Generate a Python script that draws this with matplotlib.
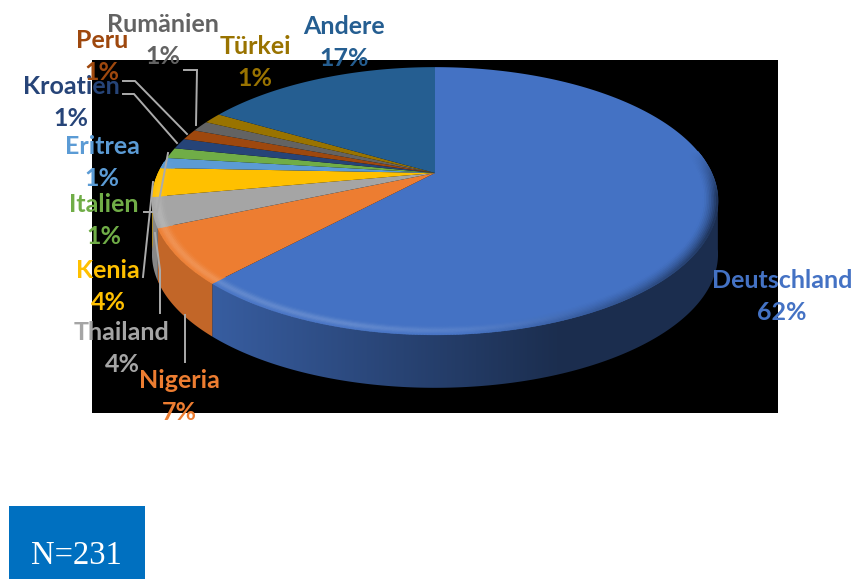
#!/usr/bin/env python3

# Herkunftsländer als 3D-Torte mit Beschriftung und Führungslinien

import matplotlib
matplotlib.use('Agg')
import matplotlib.pyplot as plt
from matplotlib.collections import PolyCollection
from matplotlib.colors import to_rgb
from matplotlib.patches import Polygon, Rectangle
import numpy as np

countries = ['Deutschland', 'Nigeria', 'Thailand', 'Kenia', 'Eritrea', 'Italien',
             'Kroatien', 'Peru', 'Rumänien', 'Türkei', 'Andere']
shares = [62.0, 6.6, 3.6, 3.5, 1.3, 1.3, 1.3, 1.3, 1.3, 1.3, 16.6]
colors = ['#4472C4', '#ED7D31', '#A5A5A5', '#FFC000', '#5B9BD5', '#70AD47',
          '#264478', '#9E480E', '#636363', '#997300', '#255E91']
sample_note = 'N=231'

label_x = [782, 179, 122, 108, 102, 104, 71, 102, 163, 255, 344]
label_y = [281, 381, 332, 271, 147, 205, 87, 41, 24, 46, 27]

# Führungslinien (x-Liste, y-Liste)
leaders = [
    ([196, 197, 184], [125, 70, 70]),
    ([187, 135, 123], [134, 81, 81]),
    ([177, 134, 123], [143, 94, 94]),
    ([168, 157, 144], [153, 212, 212]),
    ([153, 143], [182, 277]),
    ([155, 160, 160], [233, 270, 313]),
    ([185, 185], [315, 362]),
]

# Perspektive der Tortenplatte
cx, cy = 435, 173
B, A, k = 276.8, 128.0, 0.209
depth = 53


def project(r, theta):
    u = r * np.sin(theta)
    v = r * np.cos(theta)
    w = 1 + k * v
    return cx + B * u / w, cy - A * v / w


def mix(c, other, t):
    return tuple((1 - t) * a + t * b for a, b in zip(c, other))


def main():
    fig = plt.figure(figsize=(8.53, 5.79), dpi=100)
    ax = fig.add_axes([0, 0, 1, 1])

    ax.add_patch(Rectangle((92, 60), 686, 353, color='black', lw=0, zorder=0))

    edges = 2 * np.pi * np.cumsum([0] + shares) / sum(shares)

    # Seitenwand als Verlauf von links nach rechts, vordere Hälfte
    for i, c in enumerate(colors):
        lo, hi = max(edges[i], np.radians(100)), min(edges[i + 1], np.radians(262))
        if lo >= hi:
            continue
        th = np.linspace(lo, hi, 200)
        x, y = project(1.0, th)
        outline = np.c_[np.r_[x, x[::-1]], np.r_[y, y[::-1] + depth]]
        clip = Polygon(outline, closed=True, fc='none', ec='none', transform=ax.transData)
        ax.add_patch(clip)
        xs = np.linspace(x.min(), x.max(), 256)
        f = 0.82 - 0.42 * np.clip((xs - 210) / 350, 0, 1)
        grad = np.outer(f, to_rgb(c)).reshape(1, 256, 3)
        im = ax.imshow(grad, extent=(x.min(), x.max(), y.max() + depth, y.min()),
                       aspect='auto', interpolation='bilinear', zorder=1)
        im.set_clip_path(clip)

    ax.set_xlim(0, 853)
    ax.set_ylim(579, 0)
    ax.axis('off')

    # Deckfläche
    for i, c in enumerate(colors):
        th = np.linspace(edges[i], edges[i + 1], 200)
        x, y = project(1.0, th)
        ax.fill(np.r_[cx, x], np.r_[cy, y], color=c, lw=0, zorder=2)

    # Weiche Fase am vorderen Rand
    quads, quad_colors = [], []
    rings = np.linspace(0.95, 1.0, 10)
    for i, c in enumerate(colors):
        base = to_rgb(c)
        lo, hi = max(edges[i], np.radians(80)), min(edges[i + 1], np.radians(275))
        if lo >= hi:
            continue
        th = np.linspace(lo, hi, max(2, int(np.degrees(hi - lo) * 2)))
        for n in range(len(rings) - 1):
            mid = (n + 0.5) / (len(rings) - 1)
            for j in range(len(th) - 1):
                x0, y0 = project(rings[n], th[j])
                x1, y1 = project(rings[n], th[j + 1])
                x2, y2 = project(rings[n + 1], th[j + 1])
                x3, y3 = project(rings[n + 1], th[j])
                quads.append([(x0, y0), (x1, y1), (x2, y2), (x3, y3)])
                deg = np.degrees(th[j])
                light = np.clip((deg - 150) / 45, 0, 1) * np.clip((278 - deg) / 25, 0, 1)
                dark = np.clip((175 - deg) / 60, 0, 1) * np.clip((deg - 80) / 20, 0, 1)
                bump = np.exp(-((mid - 0.6) / 0.3) ** 2)
                col = mix(base, (1, 1, 1), 0.17 * light * bump)
                col = mix(col, tuple(0.42 * a for a in base), dark * mid ** 1.5)
                quad_colors.append(col)
    ax.add_collection(PolyCollection(quads, facecolors=quad_colors, edgecolors=quad_colors,
                                     linewidths=0.4, zorder=3))

    for xs, ys in leaders:
        ax.plot(xs, ys, color='#ABABAB', lw=1.4, zorder=4, solid_joinstyle='miter')

    for name, share, c, x, y in zip(countries, shares, colors, label_x, label_y):
        ax.text(x, y, name, color=c, family='Lato', weight='bold', fontsize=18,
                ha='center', va='center', zorder=5)
        ax.text(x, y + 32, f'{share:.0f}%', color=c, family='Lato', weight='bold', fontsize=18,
                ha='center', va='center', zorder=5)

    ax.add_patch(Rectangle((9, 506), 136, 73, color='#0070C0', lw=0, zorder=0))
    ax.text(76, 556, sample_note, color='white', family='Liberation Serif', fontsize=23.5,
            ha='center', va='center')

    fig.savefig('out.png', dpi=100)


if __name__ == '__main__':
    main()
